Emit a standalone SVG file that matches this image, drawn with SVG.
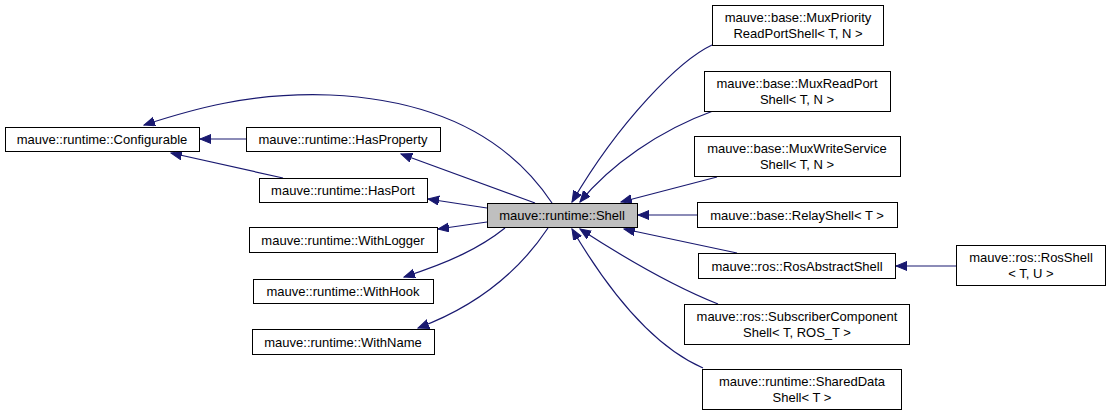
<svg xmlns="http://www.w3.org/2000/svg" width="1111" height="416" viewBox="0 0 1111 416">
<style>
.n rect{fill:#fff;stroke:#000;stroke-width:1}
.n.g rect{fill:#bfbfbf}
.n text{font-family:"Liberation Sans",Arial,sans-serif;font-size:13px;fill:#000;text-anchor:middle}
.e path{fill:none;stroke:#191970;stroke-width:1.2}
</style>
<defs>
<marker id="a" markerUnits="userSpaceOnUse" markerWidth="12" markerHeight="10" refX="11" refY="4.5" orient="auto">
<path d="M0,0 L11,4.5 L0,9 z" fill="#191970" stroke="#191970"/>
</marker>
</defs>
<g class="e">
<path d="M552,203 C510,140 440,100 330,95 C250,92 190,110 144,125" marker-end="url(#a)"/>
<path d="M246,139 L200,139" marker-end="url(#a)"/>
<path d="M283,178 L171,153" marker-end="url(#a)"/>
<path d="M535,203 L401,154" marker-end="url(#a)"/>
<path d="M487,208 L428,199" marker-end="url(#a)"/>
<path d="M487,222 L438,229" marker-end="url(#a)"/>
<path d="M505,228 C480,248 450,262 404,277" marker-end="url(#a)"/>
<path d="M548,228 C520,270 480,305 418,328" marker-end="url(#a)"/>
<path d="M712,45 C680,60 620,120 572,202" marker-end="url(#a)"/>
<path d="M713,111 C660,130 610,165 580,202" marker-end="url(#a)"/>
<path d="M717,177 L621,202" marker-end="url(#a)"/>
<path d="M697,215 L638,215" marker-end="url(#a)"/>
<path d="M737,253 L624,229" marker-end="url(#a)"/>
<path d="M718,304 C670,285 620,255 580,229" marker-end="url(#a)"/>
<path d="M703,368 C650,345 605,285 572,229" marker-end="url(#a)"/>
<path d="M956,266 L896,266" marker-end="url(#a)"/>
</g>
<g id="configurable" class="n"><rect x="5.5" y="127.5" width="194" height="24"/><text x="102" y="144">mauve::runtime::Configurable</text></g>
<g id="hasproperty" class="n"><rect x="246.5" y="127.5" width="194" height="24"/><text x="343" y="144">mauve::runtime::HasProperty</text></g>
<g id="hasport" class="n"><rect x="259.5" y="178.5" width="168" height="24"/><text x="343" y="195">mauve::runtime::HasPort</text></g>
<g id="withlogger" class="n"><rect x="249.5" y="227.5" width="188" height="25"/><text x="343" y="244.5">mauve::runtime::WithLogger</text></g>
<g id="withhook" class="n"><rect x="253.5" y="279.5" width="180" height="24"/><text x="343" y="296">mauve::runtime::WithHook</text></g>
<g id="withname" class="n"><rect x="252.5" y="329.5" width="182" height="25"/><text x="343" y="346.5">mauve::runtime::WithName</text></g>
<g id="shell" class="n g"><rect x="487.5" y="203.5" width="150" height="24"/><text x="562" y="220">mauve::runtime::Shell</text></g>
<g id="muxpriority" class="n"><rect x="712.5" y="5.5" width="171" height="40"/><text x="798" y="22">mauve::base::MuxPriority</text><text x="798" y="38">ReadPortShell&lt; T, N &gt;</text></g>
<g id="muxreadport" class="n"><rect x="704.5" y="71.5" width="186" height="40"/><text x="797" y="88">mauve::base::MuxReadPort</text><text x="797" y="104">Shell&lt; T, N &gt;</text></g>
<g id="muxwriteservice" class="n"><rect x="694.5" y="136.5" width="206" height="40"/><text x="797" y="153">mauve::base::MuxWriteService</text><text x="797" y="169">Shell&lt; T, N &gt;</text></g>
<g id="relayshell" class="n"><rect x="697.5" y="202.5" width="200" height="25"/><text x="797" y="219.5">mauve::base::RelayShell&lt; T &gt;</text></g>
<g id="rosabstractshell" class="n"><rect x="698.5" y="253.5" width="197" height="25"/><text x="797" y="270.5">mauve::ros::RosAbstractShell</text></g>
<g id="subscribercomponent" class="n"><rect x="684.5" y="304.5" width="225" height="40"/><text x="797" y="321">mauve::ros::SubscriberComponent</text><text x="797" y="337">Shell&lt; T, ROS_T &gt;</text></g>
<g id="shareddata" class="n"><rect x="702.5" y="369.5" width="199" height="40"/><text x="802" y="386">mauve::runtime::SharedData</text><text x="802" y="402">Shell&lt; T &gt;</text></g>
<g id="rosshell" class="n"><rect x="956.5" y="245.5" width="149" height="40"/><text x="1031" y="262">mauve::ros::RosShell</text><text x="1031" y="278">&lt; T, U &gt;</text></g>
</svg>
